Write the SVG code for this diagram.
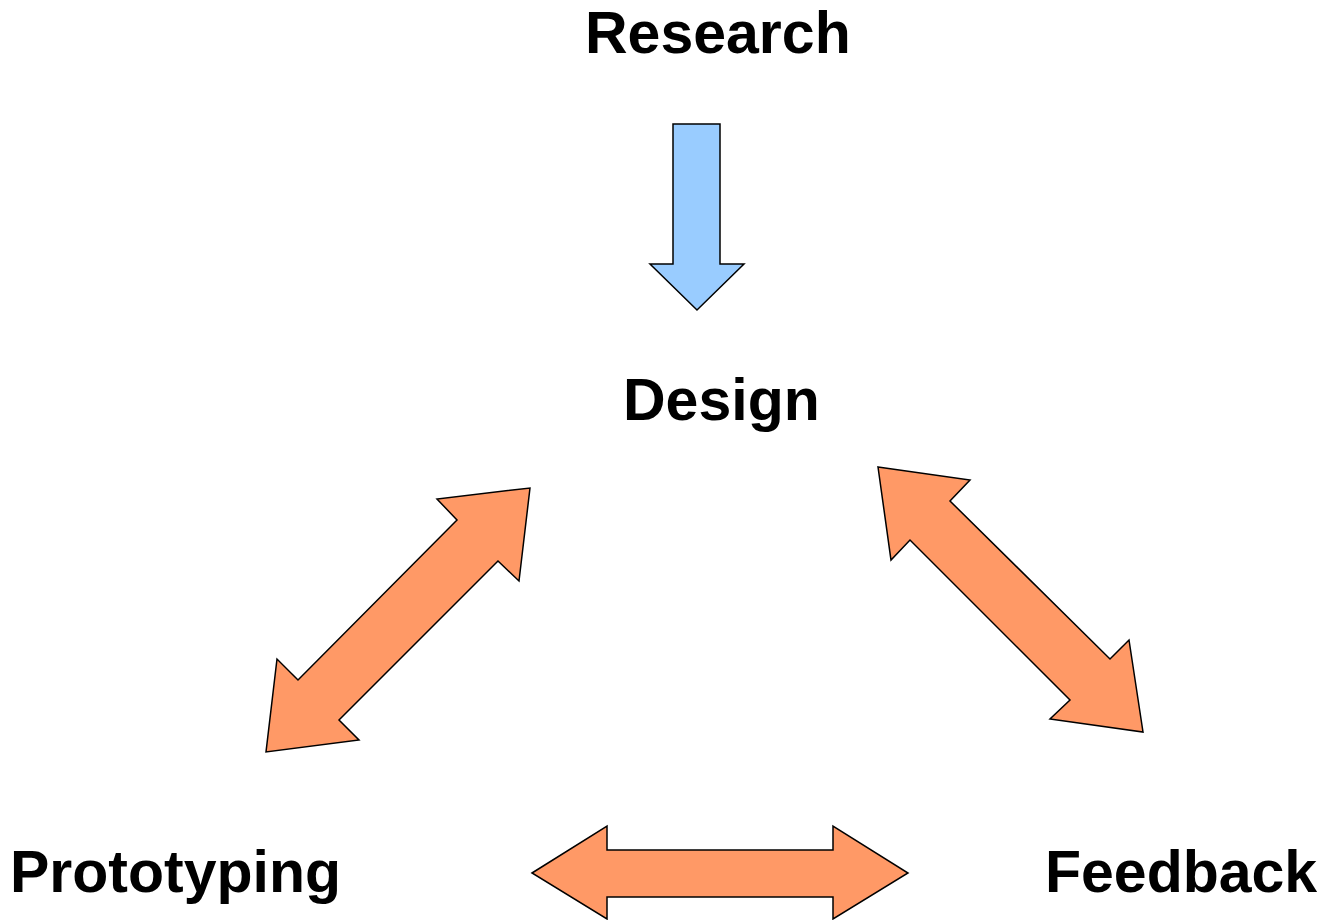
<svg xmlns="http://www.w3.org/2000/svg" width="1324" height="920" viewBox="0 0 1324 920">
<style>
.lbl{font-family:"Liberation Sans",Arial,sans-serif;font-weight:bold;font-size:59px;fill:#000}
.arr{stroke:#000;stroke-width:1.5;stroke-linejoin:miter}
.orange{fill:#ff9966}
.blue{fill:#99ccff}
</style>
<rect width="1324" height="920" fill="#fff"/>
<g id="research"><text class="lbl" x="585" y="53">Research</text></g>
<g id="design"><text class="lbl" x="623" y="420">Design</text></g>
<g id="prototyping"><text class="lbl" x="10" y="892">Prototyping</text></g>
<g id="feedback"><text class="lbl" x="1045" y="892">Feedback</text></g>
<g id="connectors">
<polygon class="arr blue" points="673,124 720,124 720,264 744,264 697,310 650,264 673,264"/>
<polygon class="arr orange" points="530,488 519,581 498,561 339,720 359,740 266,752 277,659 298,680 457,520 437,499"/>
<polygon class="arr orange" points="878,467 970,480 950,501 1110,659 1129,640 1143,732 1050,719 1070,700 910,540 891,560"/>
<polygon class="arr orange" points="532,873 607,826 607,850 833,850 833,826 908,873 833,919 833,897 607,897 607,919"/>
</g>
</svg>
